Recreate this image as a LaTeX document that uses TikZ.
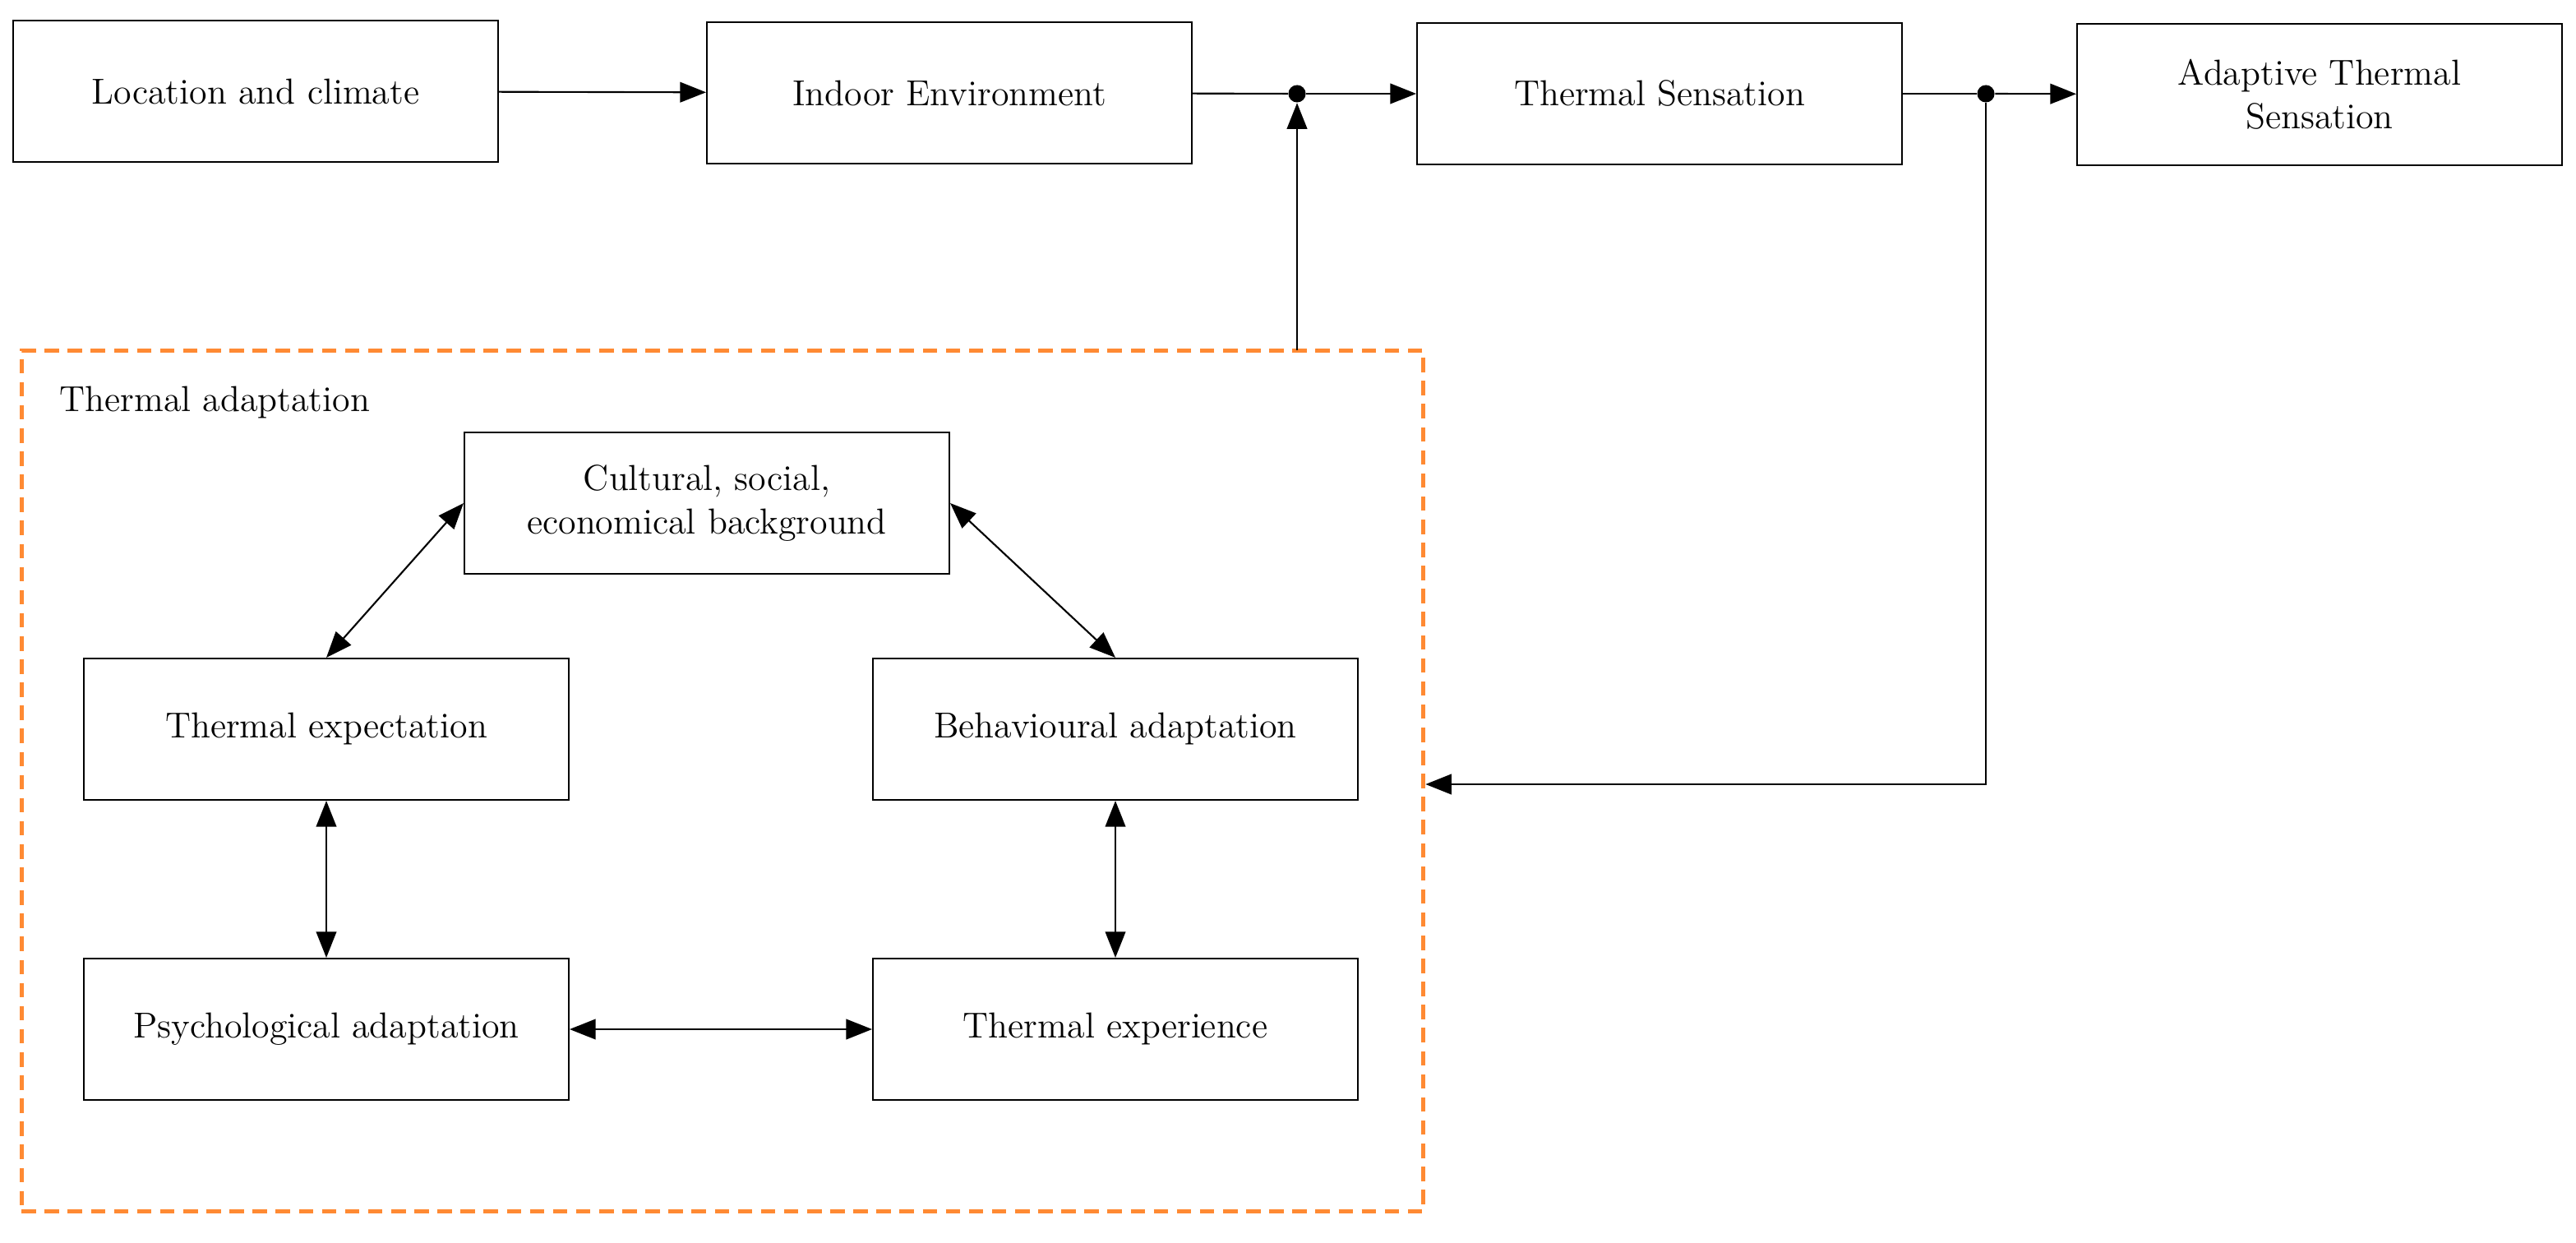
\documentclass[tikz,border=0pt]{standalone}
\usetikzlibrary{arrows.meta}
\begin{document}
\begin{tikzpicture}[x=0.02cm,y=-0.02cm,
 box/.style={draw,line width=0.6pt,minimum width=5.9cm,minimum height=1.72cm,align=center,font=\fontsize{12.5}{15}\selectfont,inner sep=0pt},
 ar/.style={line width=0.6pt,-{Triangle[length=9pt,width=7pt]}},
 dar/.style={line width=0.6pt,{Triangle[length=9pt,width=7pt]}-{Triangle[length=9pt,width=7pt]}},
 dot/.style={circle,fill,inner sep=0pt,minimum size=6pt}]
\useasboundingbox (0,0) rectangle (1567,756);
\node[box] (loc) at (155.5,55.5) {Location and climate};
\node[box] (ind) at (577.5,56.5) {Indoor Environment};
\node[box] (ts) at (1009.5,57) {Thermal Sensation};
\node[box] (ats) at (1411,57.5) {Adaptive Thermal\\Sensation};
\node[dot] (d1) at (789,57) {};
\node[dot] (d2) at (1208,57) {};
\node[draw=orange!85!red!80,dashed,line width=1.4pt,dash pattern=on 5pt off 3pt,minimum width=17.06cm,minimum height=10.48cm,inner sep=0pt] (ta) at (439.5,475) {};
\node[anchor=west,font=\fontsize{12.5}{15}\selectfont] (tal) at (30,245) {Thermal adaptation};
\node[box] (cul) at (430,306) {Cultural, social,\\economical background};
\node[box] (exp) at (198.5,443.5) {Thermal expectation};
\node[box] (beh) at (678.5,443.5) {Behavioural adaptation};
\node[box] (psy) at (198.5,626) {Psychological adaptation};
\node[box] (tex) at (678.5,626) {Thermal experience};
\coordinate (c1) at (789,213);
\coordinate (c2) at (1208,477);
\draw[ar] (loc) -- (ind);
\draw[line width=0.6pt] (ind) -- (d1);
\draw[ar] (d1) -- (ts);
\draw[ar] (c1) -- (d1);
\draw[line width=0.6pt] (ts) -- (d2);
\draw[ar] (d2) -- (ats);
\draw[ar] (d2) -- (c2) -- (ta.east |- c2);
\draw[dar] (cul.west) -- (exp.north);
\draw[dar] (cul.east) -- (beh.north);
\draw[dar] (exp) -- (psy);
\draw[dar] (beh) -- (tex);
\draw[dar] (psy) -- (tex);
\end{tikzpicture}
\end{document}
